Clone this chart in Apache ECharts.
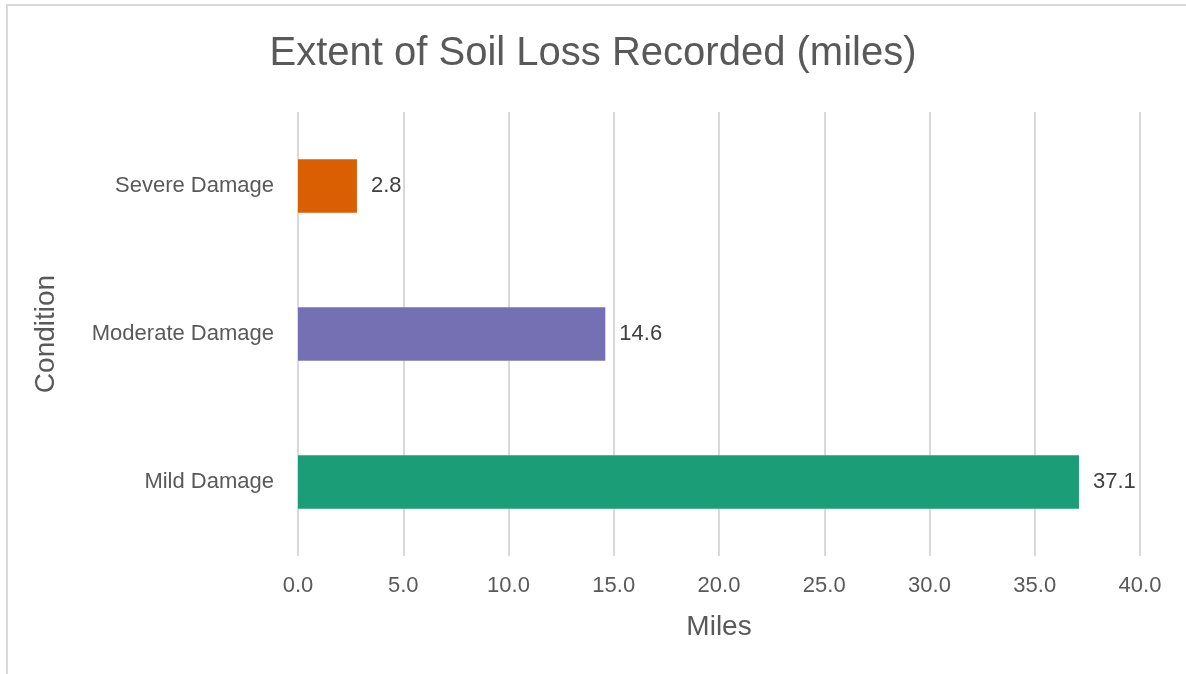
<!DOCTYPE html>
<html>
<head>
<meta charset="utf-8">
<script src="https://cdn.jsdelivr.net/npm/echarts@6/dist/echarts.min.js"></script>
<style>
  html, body { margin: 0; padding: 0; background: #ffffff; }
  #chart { width: 1186px; height: 674px; }
</style>
</head>
<body>
<div id="chart"></div>
<script>
// Conditions, listed bottom to top on the category axis
const categories = ['Mild Damage', 'Moderate Damage', 'Severe Damage'];
const miles = [37.1, 14.6, 2.8];
const barColors = ['#1B9E77', '#7570B3', '#D95F02'];
const xTicks = { min: 0, max: 40, interval: 5 };

const FONT = '"Liberation Sans", Arial, sans-serif';
const chart = echarts.init(document.getElementById('chart'), null, { renderer: 'canvas' });

chart.setOption({
  backgroundColor: '#ffffff',
  animation: false,
  title: {
    text: 'Extent of Soil Loss Recorded (miles)',
    left: 'center',
    top: 29,
    textStyle: { fontFamily: FONT, fontSize: 40, fontWeight: 'normal', color: '#595959' }
  },
  graphic: [{
    type: 'rect',
    shape: { x: 7, y: 5, width: 1220, height: 720 },
    style: { fill: 'none', stroke: '#d9d9d9', lineWidth: 2 },
    silent: true
  }],
  grid: { left: 298, right: 46, top: 112, bottom: 118, containLabel: false },
  xAxis: {
    type: 'value',
    min: xTicks.min,
    max: xTicks.max,
    interval: xTicks.interval,
    name: 'Miles',
    nameLocation: 'middle',
    nameGap: 57,
    nameTextStyle: { fontFamily: FONT, fontSize: 28, color: '#595959' },
    axisLine: { show: false },
    axisTick: { show: false },
    axisLabel: {
      margin: 19,
      fontFamily: FONT, fontSize: 22, color: '#595959',
      formatter: v => v.toFixed(1)
    },
    splitLine: { show: true, lineStyle: { color: '#d9d9d9', width: 2 } }
  },
  yAxis: {
    type: 'category',
    data: categories,
    name: 'Condition',
    nameLocation: 'middle',
    nameGap: 238,
    nameTextStyle: { fontFamily: FONT, fontSize: 28, color: '#595959' },
    axisLine: { show: false },
    axisTick: { show: false },
    axisLabel: { margin: 24, fontFamily: FONT, fontSize: 22, color: '#595959' },
    splitLine: { show: false }
  },
  series: [{
    type: 'bar',
    data: miles.map((v, i) => ({ value: v, itemStyle: { color: barColors[i] } })),
    barCategoryGap: '64%',
    label: {
      show: true,
      position: 'right',
      distance: 14,
      fontFamily: FONT, fontSize: 22, color: '#404040',
      formatter: p => p.value.toFixed(1)
    }
  }]
});
</script>
</body>
</html>
